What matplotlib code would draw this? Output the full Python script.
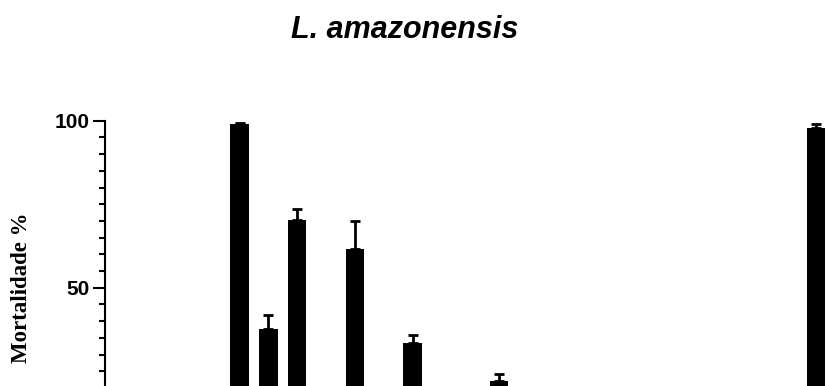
#coding:utf-8
# mortalidade - L. amazonensis

import matplotlib
matplotlib.use('Agg')
from matplotlib import pyplot as plt
from matplotlib.ticker import MultipleLocator

# posicao de cada grupo no eixo x (so os grupos visiveis no recorte)
slots = [0, 1, 2, 4, 6, 9, 20]
mortalidade = [98.9, 37.5, 70.3, 61.5, 33.5, 22.1, 97.7]
erro = [0.3, 4.3, 3.2, 8.6, 2.2, 2.1, 1.4]

titulo = 'L. amazonensis'
ylabel = 'Mortalidade %'

fig = plt.figure(figsize=(8.26, 3.86), dpi=100)
# o eixo continua abaixo da figura (imagem recortada)
ax = fig.add_axes([0.1271, -0.178, 0.8729, 0.8653])

ax.bar(slots, mortalidade, width=0.64, color='black',
       yerr=[[0] * len(erro), erro],
       error_kw=dict(ecolor='black', elinewidth=2.0, capsize=3.9, capthick=2.0))

ax.set_ylim(0, 100)
ax.set_xlim(-4.67, 20.34)

for s in ['top', 'right', 'bottom']:
    ax.spines[s].set_visible(False)
ax.spines['left'].set_linewidth(1.5)

ax.set_xticks([])
ax.set_yticks([50, 100])
ax.yaxis.set_minor_locator(MultipleLocator(5))
ax.tick_params(axis='y', which='major', length=8.6, width=1.5, pad=2.4)
ax.tick_params(axis='y', which='minor', length=4.3, width=1.5)
for lb in ax.get_yticklabels():
    lb.set_family('Liberation Sans')
    lb.set_fontweight('bold')
    lb.set_fontsize(15)

fig.text(405 / 826., 1 - 38.3 / 386., titulo, ha='center', va='baseline',
         family='Liberation Sans', fontweight='bold', style='italic', fontsize=22)
fig.text(22 / 826., 1 - 288 / 386., ylabel, rotation=90, ha='center', va='center',
         family='Liberation Serif', fontweight='bold', fontsize=16.5)

fig.savefig('out.png', dpi=100)
